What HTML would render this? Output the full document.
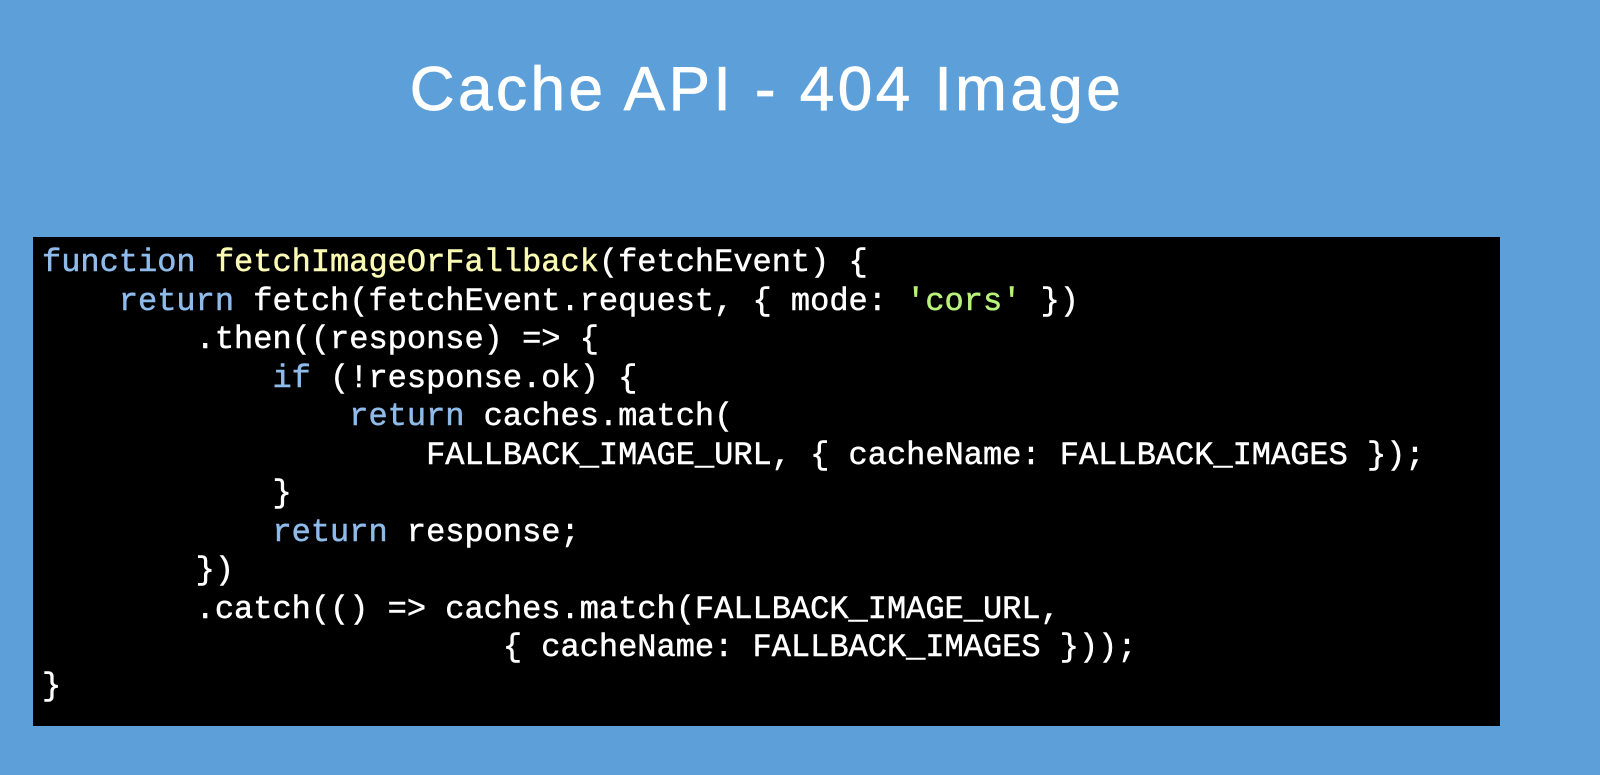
<!DOCTYPE html>
<html><head><meta charset="utf-8"><style>
html,body{margin:0;padding:0}
body{width:1600px;height:775px;background:#5c9fd9;position:relative;overflow:hidden}
h1{position:absolute;left:0;width:1534px;top:48px;margin:0;text-align:center;color:#fff;font:500 62px "Liberation Sans",sans-serif;line-height:84px;letter-spacing:3.5px;-webkit-text-stroke:0.8px #fff}
.code{position:absolute;left:33px;top:237px;width:1467px;height:489px;background:#000}
pre{position:absolute;left:42px;top:244px;margin:0;color:#fff;font:32px/38.5px "Liberation Mono",monospace;white-space:pre;-webkit-text-stroke:0.5px currentColor}
.k{color:#8ebbea}.f{color:#fafab4}.s{color:#b8f27c}
</style></head><body>
<h1>Cache API - 404 Image</h1>
<div class="code"></div>
<pre><span class="k">function</span> <span class="f">fetchImageOrFallback</span>(fetchEvent) {
    <span class="k">return</span> fetch(fetchEvent.request, { mode: <span class="s">'cors'</span> })
        .then((response) =&gt; {
            <span class="k">if</span> (!response.ok) {
                <span class="k">return</span> caches.match(
                    FALLBACK_IMAGE_URL, { cacheName: FALLBACK_IMAGES });
            }
            <span class="k">return</span> response;
        })
        .catch(() =&gt; caches.match(FALLBACK_IMAGE_URL,
                        { cacheName: FALLBACK_IMAGES }));
}</pre>
</body></html>
